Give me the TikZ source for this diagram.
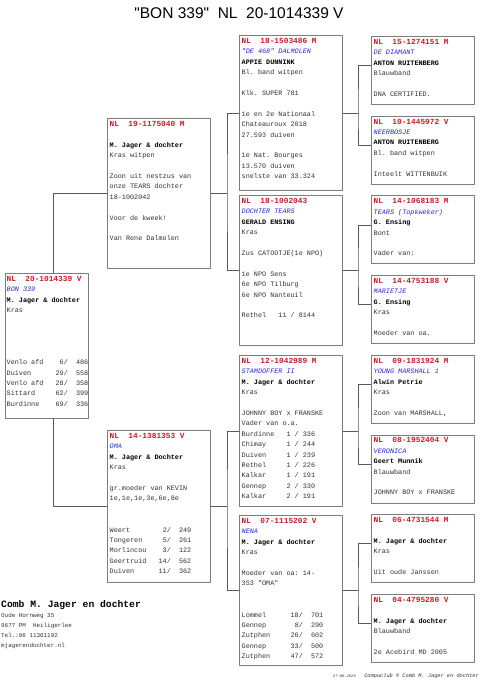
\documentclass[tikz,border=0pt]{standalone}
\usepackage{fontspec}
\newfontfamily\ttlfont{Liberation Sans}
\setmonofont{Liberation Mono}
\definecolor{hdred}{RGB}{200,30,40}
\definecolor{nmblue}{RGB}{40,40,200}
\definecolor{txgray}{RGB}{50,50,50}
\definecolor{bxgray}{RGB}{125,125,125}
\newcommand{\hd}[1]{{\fontsize{7.8}{10.4}\selectfont\bfseries\color{hdred}#1}}
\newcommand{\nm}[1]{{\itshape\color{nmblue}#1}}
\newcommand{\ow}[1]{{\bfseries\color{black}#1}}
\newcommand{\bl}{\mbox{}}
\begin{document}
\begin{tikzpicture}[x=1pt, y=-1pt, line cap=round, line join=round,
    box/.style={draw=bxgray, line width=1pt, fill=white, anchor=north west,
      inner sep=0pt, minimum width=103pt},
    gbox/.style={box, minimum height=68pt},
    txt/.style={anchor=north west, inner sep=0pt, align=left, text=txgray,
      font=\ttfamily\fontsize{6.8}{10.4}\selectfont},
    link/.style={line width=0.7pt, draw=black!65}]
  \useasboundingbox (0,0) rectangle (480,689);
  \node[font=\ttlfont\fontsize{15.5}{17}\selectfont] (ttl) at (239,13) {"BON 339"~~NL~~20-1014339 V};
  \node[box, minimum width=83pt, minimum height=145pt] (l) at (5,273) {};
  \node[box, minimum height=150pt] (s) at (107,118) {};
  \node[box, minimum height=152pt] (d) at (107,430) {};
  \node[box, minimum height=155pt] (ss) at (239,35) {};
  \node[box, minimum height=150pt] (sd) at (239,195) {};
  \node[box, minimum height=151pt] (ds) at (239,355) {};
  \node[box, minimum height=150pt] (dd) at (239,515) {};
  \node[gbox] (b1) at (371,36) {};
  \node[gbox] (b2) at (371,115.7) {};
  \node[gbox] (b3) at (371,195.4) {};
  \node[gbox] (b4) at (371,275.1) {};
  \node[gbox] (b5) at (371,354.8) {};
  \node[gbox] (b6) at (371,434.5) {};
  \node[gbox] (b7) at (371,514.2) {};
  \node[gbox] (b8) at (371,593.9) {};
  \draw[link] (s.west) -| ([xshift=6pt]l.north);
  \draw[link] (d.west) -| ([xshift=6pt]l.south);
  \draw[link] (s.east) -- ([xshift=16pt]s.east);
  \draw[link] (ss.west) -| ([xshift=16pt]s.east) |- (sd.west);
  \draw[link] (d.east) -- ([xshift=16pt]d.east);
  \draw[link] (ds.west) -| ([xshift=16pt]d.east) |- (dd.west);
  \draw[link] (ss.east) -- ([xshift=15pt]ss.east);
  \draw[link] ([yshift=5pt]b1.west) -| ([xshift=15pt]ss.east) |- ([yshift=5pt]b2.west);
  \draw[link] (sd.east) -- ([xshift=15pt]sd.east);
  \draw[link] ([yshift=5pt]b3.west) -| ([xshift=15pt]sd.east) |- ([yshift=5pt]b4.west);
  \draw[link] (ds.east) -- ([xshift=15pt]ds.east);
  \draw[link] ([yshift=5pt]b5.west) -| ([xshift=15pt]ds.east) |- ([yshift=5pt]b6.west);
  \draw[link] (dd.east) -- ([xshift=15pt]dd.east);
  \draw[link] ([yshift=5pt]b7.west) -| ([xshift=15pt]dd.east) |- ([yshift=5pt]b8.west);
  \node[txt] (tl) at ([xshift=1.5pt,yshift=-3pt]l.north west) {\hd{NL~~20-1014339 V}\\\nm{BON 339}\\\ow{M. Jager \& dochter}\\Kras\\\bl\\\bl\\\bl\\\bl\\
    Venlo~afd~~~~6/~~486\\Duiven~~~~~~29/~~558\\Venlo~afd~~~28/~~358\\Sittard~~~~~62/~~399\\Burdinne~~~~69/~~336};
  \node[txt] (ts) at ([xshift=2.5pt,yshift=-3pt]s.north west) {\hd{NL~~19-1175040 M}\\\bl\\\ow{M. Jager \& dochter}\\Kras witpen\\\bl\\
    Zoon uit nestzus van\\onze TEARS dochter\\18-1002042\\\bl\\Voor de kweek!\\\bl\\Van Rene Dalmolen};
  \node[txt] (td) at ([xshift=2.5pt,yshift=-3pt]d.north west) {\hd{NL~~14-1381353 V}\\\nm{OMA}\\\ow{M. Jager \& Dochter}\\Kras\\\bl\\
    gr.moeder van KEVIN\\1e,1e,1e,3e,6e,8e\\\bl\\\bl\\
    Weert~~~~~~~~2/~~249\\Tongeren~~~~~5/~~261\\Morlincou~~~~3/~~122\\Geertruid~~~14/~~562\\Duiven~~~~~~11/~~362};
  \node[txt] (tss) at ([xshift=2.5pt,yshift=-3pt]ss.north west) {\hd{NL~~18-1503486 M}\\\nm{"DE 468" DALMOLEN}\\\ow{APPIE DUNNINK}\\Bl. band witpen\\\bl\\
    Klk. SUPER 781\\\bl\\1e en 2e Nationaal\\Chateauroux 2018\\27.593 duiven\\\bl\\1e Nat. Bourges\\13.570 duiven\\snelste van 33.324};
  \node[txt] (tsd) at ([xshift=2.5pt,yshift=-3pt]sd.north west) {\hd{NL~~18-1002043}\\\nm{DOCHTER TEARS}\\\ow{GERALD ENSING}\\Kras\\\bl\\
    Zus CATOOTJE(1e NPO)\\\bl\\1e NPO Sens\\6e NPO Tilburg\\6e NPO Nanteuil\\\bl\\Rethel~~~11~/~8144};
  \node[txt] (tds) at ([xshift=2.5pt,yshift=-3pt]ds.north west) {\hd{NL~~12-1042989 M}\\\nm{STAMDOFFER II}\\\ow{M. Jager \& dochter}\\Kras\\\bl\\
    JOHNNY BOY x FRANSKE\\Vader van o.a.\\Burdinne~~~1~/~336\\Chimay~~~~~1~/~244\\Duiven~~~~~1~/~239\\
    Rethel~~~~~1~/~226\\Kalkar~~~~~1~/~191\\Gennep~~~~~2~/~330\\Kalkar~~~~~2~/~191};
  \node[txt] (tdd) at ([xshift=2.5pt,yshift=-3pt]dd.north west) {\hd{NL~~07-1115202 V}\\\nm{NENA}\\\ow{M. Jager \& dochter}\\Kras\\\bl\\
    Moeder van oa: 14-\\353 "OMA"\\\bl\\\bl\\
    Lommel~~~~~~18/~~701\\Gennep~~~~~~~8/~~290\\Zutphen~~~~~26/~~602\\Gennep~~~~~~33/~~500\\Zutphen~~~~~47/~~572};
  \node[txt] (t1) at ([xshift=2.5pt,yshift=-3pt]b1.north west) {\hd{NL~~15-1274151 M}\\\nm{DE DIAMANT}\\\ow{ANTON RUITENBERG}\\Blauwband\\\bl\\DNA CERTIFIED.};
  \node[txt] (t2) at ([xshift=2.5pt,yshift=-3pt]b2.north west) {\hd{NL~~10-1445972 V}\\\nm{NEERBOSJE}\\\ow{ANTON RUITENBERG}\\Bl. band witpen\\\bl\\Inteelt WITTENBUIK};
  \node[txt] (t3) at ([xshift=2.5pt,yshift=-3pt]b3.north west) {\hd{NL~~14-1068183 M}\\\nm{TEARS (Topkweker)}\\\ow{G. Ensing}\\Bont\\\bl\\Vader van:};
  \node[txt] (t4) at ([xshift=2.5pt,yshift=-3pt]b4.north west) {\hd{NL~~14-4753188 V}\\\nm{MARIETJE}\\\ow{G. Ensing}\\Kras\\\bl\\Moeder van oa.};
  \node[txt] (t5) at ([xshift=2.5pt,yshift=-3pt]b5.north west) {\hd{NL~~09-1831924 M}\\\nm{YOUNG MARSHALL 1}\\\ow{Alwin Petrie}\\Kras\\\bl\\Zoon van MARSHALL,};
  \node[txt] (t6) at ([xshift=2.5pt,yshift=-3pt]b6.north west) {\hd{NL~~08-1952404 V}\\\nm{VERONICA}\\\ow{Geert Munnik}\\Blauwband\\\bl\\JOHNNY BOY x FRANSKE};
  \node[txt] (t7) at ([xshift=2.5pt,yshift=-3pt]b7.north west) {\hd{NL~~06-4731544 M}\\\bl\\\ow{M. Jager \& dochter}\\Kras\\\bl\\Uit oude Janssen};
  \node[txt] (t8) at ([xshift=2.5pt,yshift=-3pt]b8.north west) {\hd{NL~~04-4795280 V}\\\bl\\\ow{M. Jager \& dochter}\\Blauwband\\\bl\\2e Acebird MD 2005};
  \node[anchor=west, inner sep=0pt, font=\ttfamily\bfseries\fontsize{9.7}{11}\selectfont] (club) at (1,605) {Comb M. Jager en dochter};
  \node[txt, font=\ttfamily\fontsize{5.9}{10}\selectfont] (adr) at (1,613) {Oude Hornweg 35\\9677 PM~~Heiligerlee\\Tel.:06 11361192\\mjagerendochter.nl};
  \node[anchor=base east, inner sep=0pt, text=txgray, font=\ttfamily\itshape\fontsize{3.8}{5}\selectfont] (dt) at (356,677) {27-09-2020};
  \node[anchor=base east, inner sep=0pt, text=txgray, font=\ttfamily\itshape\fontsize{5.3}{6}\selectfont] (cp) at (479,677) {Compuclub © Comb M. Jager en dochter};
\end{tikzpicture}
\end{document}
